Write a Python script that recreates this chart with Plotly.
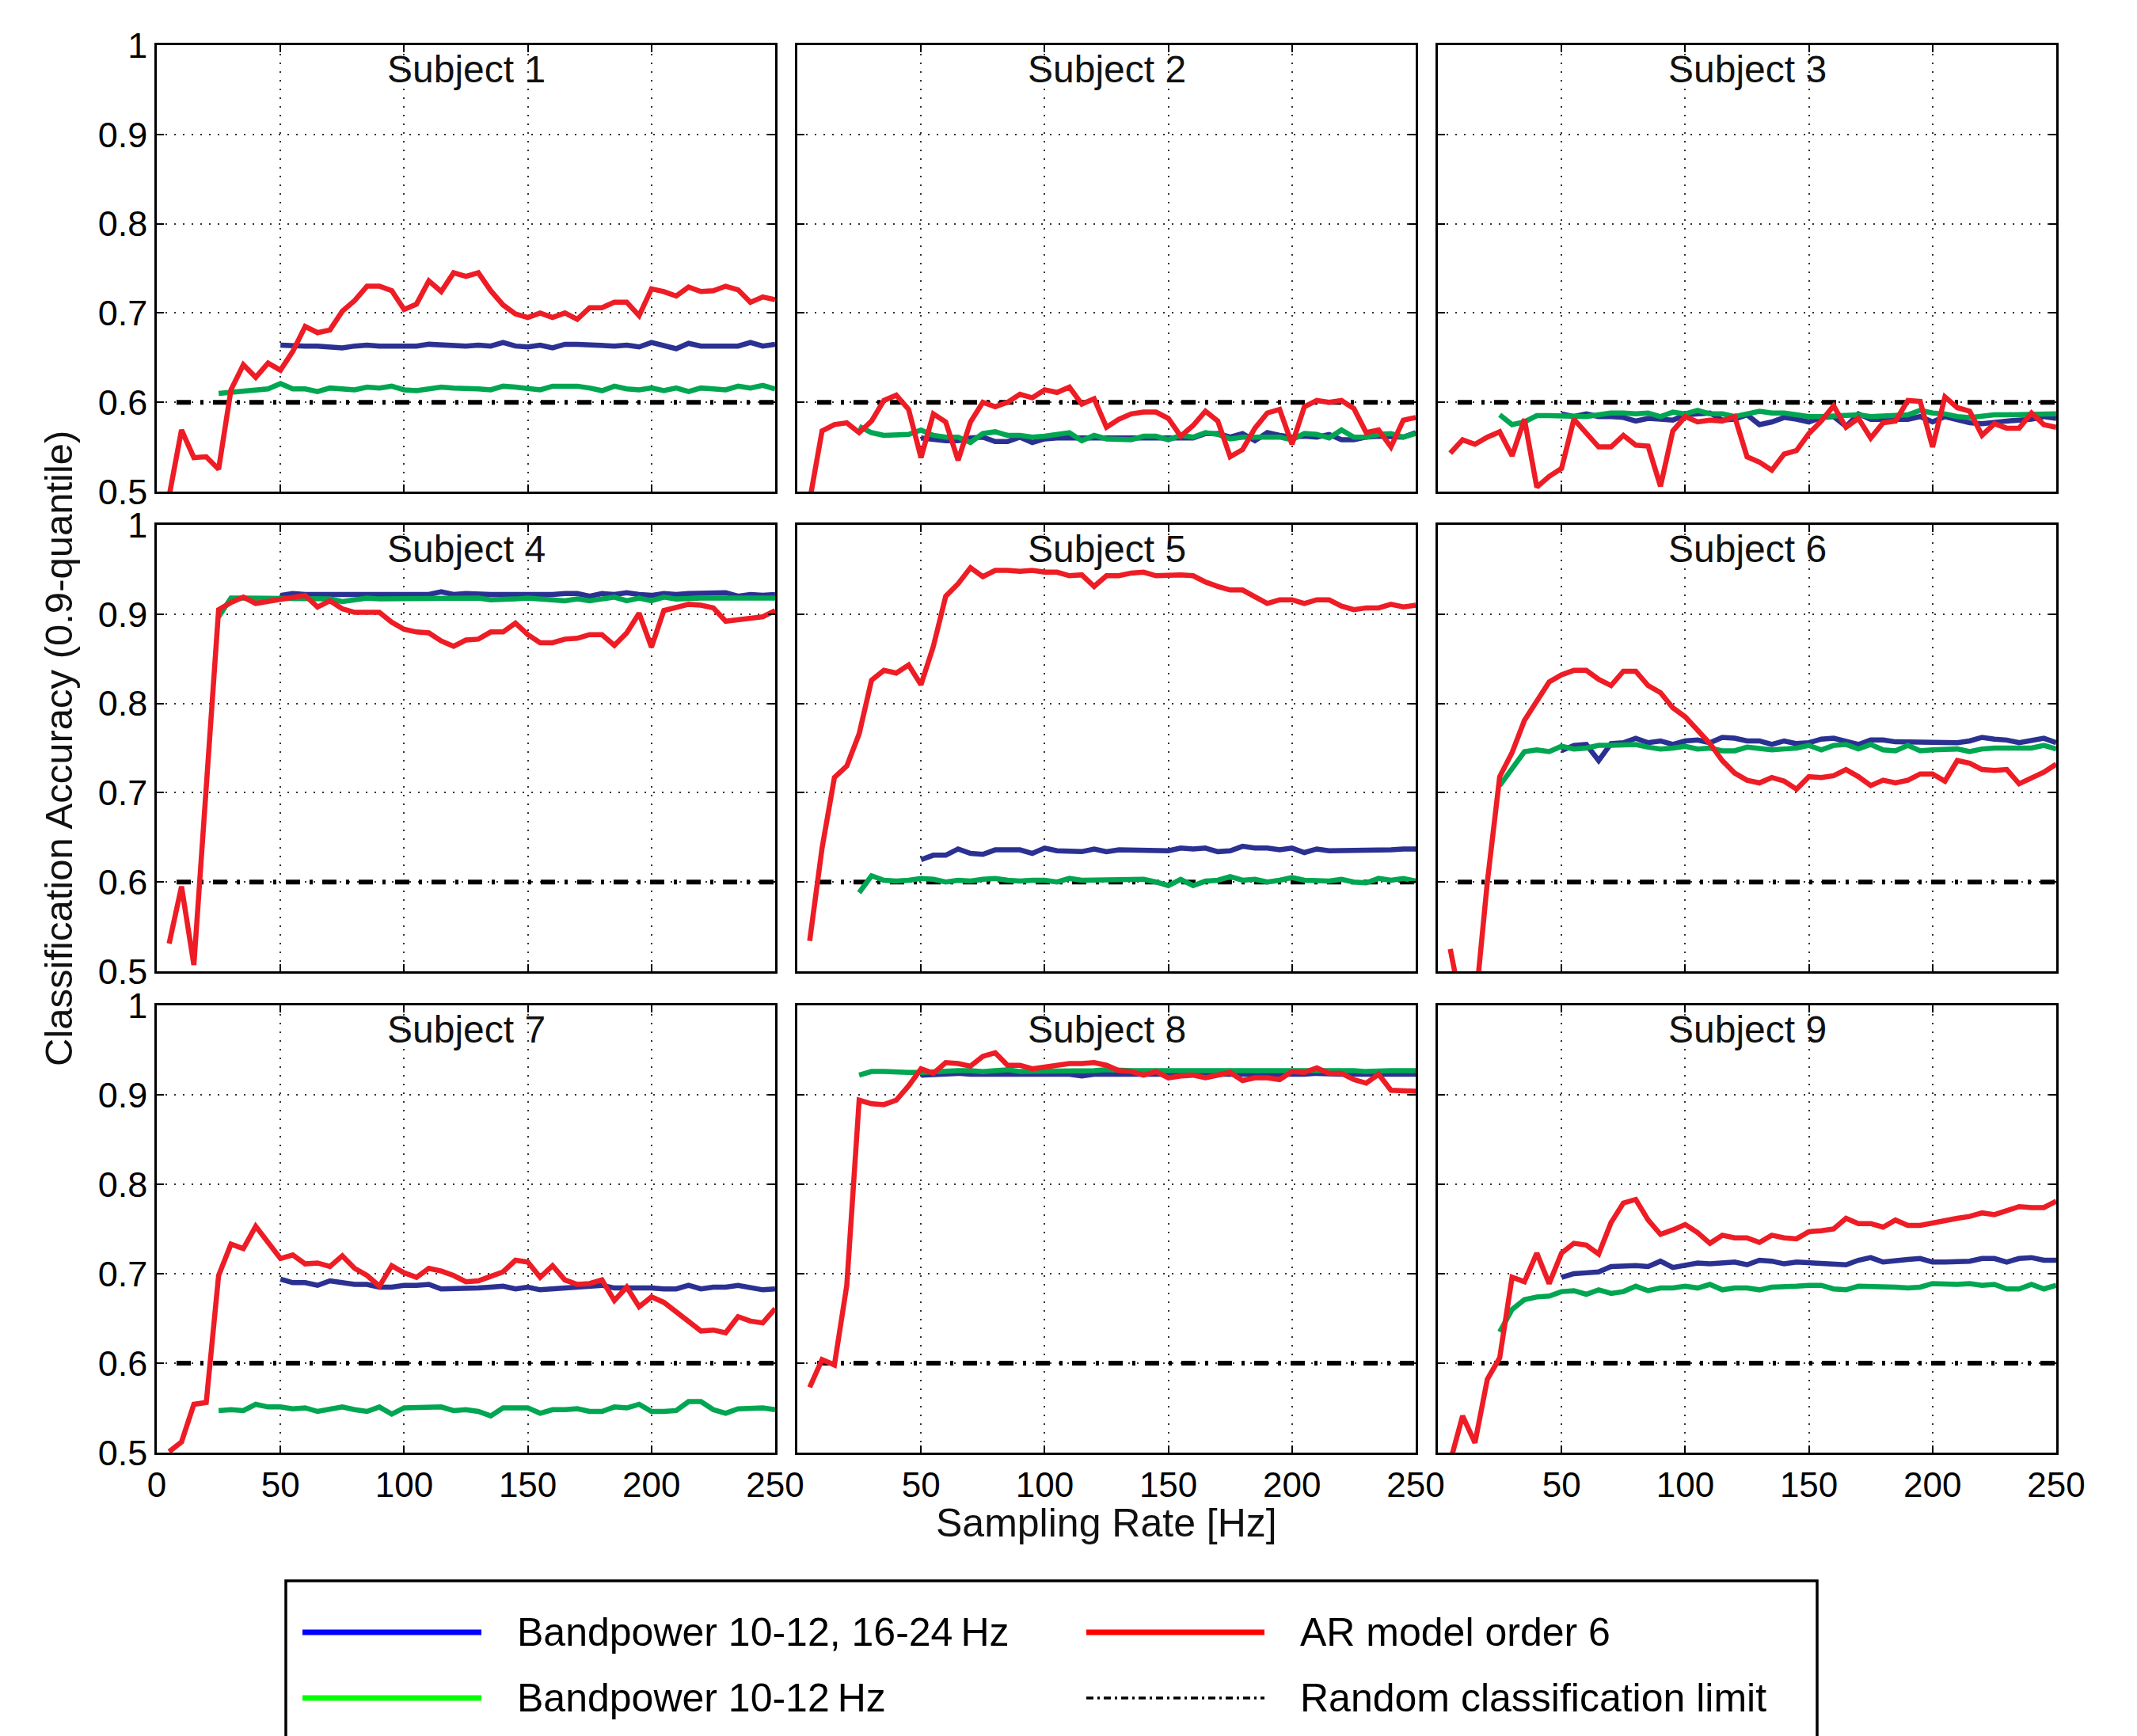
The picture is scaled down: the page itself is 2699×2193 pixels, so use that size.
import plotly.graph_objects as go

W, H = 2699, 2193

# ---------------- data ----------------
x_ar = [5, 10, 15, 20, 25, 30, 35, 40, 45, 50, 55, 60, 65, 70, 75, 80, 85, 90, 95, 100,
        105, 110, 115, 120, 125, 130, 135, 140, 145, 150, 155, 160, 165, 170, 175, 180,
        185, 190, 195, 200, 205, 210, 215, 220, 225, 230, 235, 240, 245, 250]
x_bp12 = [25, 30, 35, 40, 45, 50, 55, 60, 65, 70, 75, 80, 85, 90, 95, 100,
          105, 110, 115, 120, 125, 130, 135, 140, 145, 150, 155, 160, 165, 170, 175, 180,
          185, 190, 195, 200, 205, 210, 215, 220, 225, 230, 235, 240, 245, 250]
x_bp1224 = [50, 55, 60, 65, 70, 75, 80, 85, 90, 95, 100,
            105, 110, 115, 120, 125, 130, 135, 140, 145, 150, 155, 160, 165, 170, 175, 180,
            185, 190, 195, 200, 205, 210, 215, 220, 225, 230, 235, 240, 245, 250]
chance_x = [8, 250]
chance_y = [0.6, 0.6]

subjects = ["Subject 1", "Subject 2", "Subject 3", "Subject 4", "Subject 5",
            "Subject 6", "Subject 7", "Subject 8", "Subject 9"]

ar_s1 = [0.495, 0.569, 0.538, 0.539, 0.525, 0.614, 0.642, 0.628, 0.644, 0.636,
         0.657, 0.685, 0.678, 0.681, 0.702, 0.714, 0.730, 0.730, 0.725, 0.704,
         0.710, 0.736, 0.724, 0.745, 0.741, 0.745, 0.725, 0.709, 0.699, 0.695,
         0.700, 0.695, 0.700, 0.693, 0.706, 0.706, 0.712, 0.712, 0.697, 0.727,
         0.724, 0.719, 0.729, 0.724, 0.725, 0.730, 0.726, 0.712, 0.718, 0.715]
ar_s2 = [0.490, 0.568, 0.575, 0.577, 0.566, 0.579, 0.602, 0.608, 0.592, 0.538,
         0.587, 0.578, 0.535, 0.578, 0.600, 0.595, 0.600, 0.609, 0.605, 0.614,
         0.611, 0.617, 0.598, 0.604, 0.572, 0.581, 0.587, 0.589, 0.589, 0.582,
         0.562, 0.574, 0.590, 0.579, 0.539, 0.547, 0.571, 0.588, 0.592, 0.553,
         0.595, 0.602, 0.600, 0.602, 0.593, 0.566, 0.569, 0.550, 0.580, 0.583]
ar_s3 = [0.543, 0.558, 0.553, 0.561, 0.567, 0.540, 0.581, 0.505, 0.517, 0.526,
         0.581, 0.566, 0.550, 0.550, 0.563, 0.552, 0.551, 0.506, 0.568, 0.584,
         0.578, 0.580, 0.579, 0.584, 0.539, 0.533, 0.524, 0.542, 0.546, 0.565,
         0.579, 0.596, 0.572, 0.582, 0.560, 0.577, 0.579, 0.602, 0.601, 0.550,
         0.606, 0.594, 0.590, 0.563, 0.576, 0.571, 0.571, 0.588, 0.575, 0.572]
ar_s4 = [0.531, 0.595, 0.507, 0.706, 0.905, 0.913, 0.919, 0.912, 0.914, 0.916,
         0.919, 0.921, 0.908, 0.915, 0.906, 0.902, 0.902, 0.902, 0.891, 0.883,
         0.880, 0.879, 0.870, 0.864, 0.871, 0.872, 0.880, 0.880, 0.890, 0.877,
         0.868, 0.868, 0.872, 0.873, 0.877, 0.877, 0.865, 0.879, 0.901, 0.863,
         0.904, 0.907, 0.911, 0.910, 0.907, 0.892, 0.894, 0.895, 0.897, 0.904]
ar_s5 = [0.534, 0.638, 0.717, 0.730, 0.766, 0.826, 0.837, 0.834, 0.843, 0.821,
         0.864, 0.920, 0.934, 0.952, 0.942, 0.949, 0.949, 0.948, 0.949, 0.947,
         0.947, 0.943, 0.944, 0.931, 0.943, 0.943, 0.946, 0.947, 0.943, 0.944,
         0.944, 0.943, 0.936, 0.931, 0.927, 0.927, 0.919, 0.912, 0.916, 0.916,
         0.912, 0.916, 0.916, 0.909, 0.905, 0.907, 0.907, 0.911, 0.908, 0.910]
ar_s6 = [0.525, 0.455, 0.457, 0.600, 0.718, 0.745, 0.781, 0.803, 0.824, 0.832,
         0.837, 0.837, 0.827, 0.820, 0.836, 0.836, 0.820, 0.812, 0.795, 0.785,
         0.771, 0.755, 0.736, 0.722, 0.714, 0.711, 0.717, 0.713, 0.704, 0.718,
         0.717, 0.719, 0.726, 0.718, 0.708, 0.714, 0.711, 0.714, 0.721, 0.721,
         0.713, 0.736, 0.733, 0.726, 0.725, 0.726, 0.710, 0.717, 0.723, 0.732]
ar_s7 = [0.501, 0.512, 0.554, 0.556, 0.698, 0.733, 0.728, 0.753, 0.735, 0.717,
         0.721, 0.711, 0.712, 0.708, 0.720, 0.706, 0.698, 0.686, 0.709, 0.701,
         0.696, 0.706, 0.703, 0.698, 0.691, 0.692, 0.697, 0.702, 0.715, 0.713,
         0.696, 0.709, 0.693, 0.688, 0.689, 0.693, 0.670, 0.685, 0.663, 0.674,
         0.668, 0.657, 0.646, 0.636, 0.637, 0.634, 0.652, 0.647, 0.645, 0.661]
ar_s8 = [0.573, 0.604, 0.598, 0.687, 0.894, 0.890, 0.889, 0.894, 0.910, 0.929,
         0.924, 0.936, 0.935, 0.932, 0.943, 0.947, 0.933, 0.933, 0.929, 0.931,
         0.932, 0.935, 0.935, 0.936, 0.933, 0.927, 0.926, 0.922, 0.926, 0.919,
         0.921, 0.922, 0.919, 0.922, 0.925, 0.916, 0.919, 0.919, 0.917, 0.926,
         0.925, 0.930, 0.924, 0.924, 0.917, 0.913, 0.923, 0.905, 0.905, 0.904]
ar_s9 = [0.490, 0.541, 0.511, 0.582, 0.606, 0.696, 0.691, 0.723, 0.689, 0.723,
         0.734, 0.732, 0.722, 0.757, 0.779, 0.783, 0.760, 0.744, 0.749, 0.755,
         0.746, 0.734, 0.743, 0.740, 0.740, 0.735, 0.743, 0.740, 0.739, 0.747,
         0.748, 0.750, 0.762, 0.756, 0.756, 0.752, 0.760, 0.754, 0.754, 0.757,
         0.760, 0.762, 0.764, 0.768, 0.766, 0.771, 0.775, 0.774, 0.774, 0.781]

bp12_s1 = [0.610, 0.611, 0.613, 0.614, 0.615, 0.621, 0.615, 0.615, 0.612, 0.616,
           0.615, 0.614, 0.617, 0.616, 0.618, 0.614, 0.613, 0.615, 0.617, 0.616,
           0.616, 0.615, 0.614, 0.618, 0.617, 0.616, 0.614, 0.618, 0.618, 0.618,
           0.616, 0.613, 0.618, 0.615, 0.614, 0.616, 0.613, 0.616, 0.612, 0.616,
           0.615, 0.614, 0.618, 0.616, 0.619, 0.615]
bp12_s2 = [0.573, 0.566, 0.563, 0.564, 0.564, 0.569, 0.563, 0.561, 0.561, 0.555,
           0.565, 0.567, 0.563, 0.563, 0.561, 0.562, 0.564, 0.566, 0.557, 0.563,
           0.559, 0.559, 0.558, 0.562, 0.562, 0.558, 0.563, 0.561, 0.566, 0.564,
           0.559, 0.561, 0.561, 0.561, 0.561, 0.558, 0.565, 0.564, 0.560, 0.569,
           0.561, 0.561, 0.564, 0.565, 0.561, 0.565]
bp12_s3 = [0.586, 0.575, 0.578, 0.585, 0.585, 0.585, 0.584, 0.584, 0.586, 0.588,
           0.588, 0.587, 0.588, 0.584, 0.589, 0.587, 0.591, 0.587, 0.587, 0.584,
           0.587, 0.590, 0.588, 0.588, 0.586, 0.584, 0.584, 0.585, 0.585, 0.586,
           0.584, 0.585, 0.586, 0.586, 0.591, 0.588, 0.587, 0.584, 0.583, 0.585,
           0.586, 0.586, 0.586, 0.586, 0.586, 0.587]
bp12_s4 = [0.897, 0.918, 0.918, 0.918, 0.918, 0.917, 0.917, 0.918, 0.917, 0.917,
           0.914, 0.916, 0.918, 0.917, 0.917, 0.918, 0.917, 0.917, 0.917, 0.918,
           0.918, 0.918, 0.916, 0.916, 0.917, 0.918, 0.917, 0.917, 0.915, 0.917,
           0.915, 0.917, 0.919, 0.915, 0.918, 0.915, 0.919, 0.917, 0.918, 0.918,
           0.918, 0.918, 0.918, 0.918, 0.918, 0.918]
bp12_s5 = [0.588, 0.607, 0.602, 0.601, 0.602, 0.604, 0.603, 0.600, 0.602, 0.601,
           0.603, 0.604, 0.602, 0.601, 0.602, 0.602, 0.600, 0.604, 0.602, 0.602,
           0.603, 0.602, 0.603, 0.603, 0.600, 0.596, 0.603, 0.596, 0.601, 0.602,
           0.606, 0.602, 0.603, 0.600, 0.602, 0.605, 0.602, 0.601, 0.601, 0.603,
           0.600, 0.599, 0.604, 0.602, 0.604, 0.601]
bp12_s6 = [0.708, 0.726, 0.746, 0.748, 0.746, 0.752, 0.749, 0.750, 0.753, 0.753,
           0.753, 0.754, 0.751, 0.749, 0.750, 0.752, 0.749, 0.750, 0.747, 0.747,
           0.751, 0.749, 0.748, 0.749, 0.750, 0.753, 0.748, 0.753, 0.754, 0.749,
           0.754, 0.748, 0.747, 0.753, 0.747, 0.748, 0.749, 0.749, 0.746, 0.749,
           0.750, 0.750, 0.749, 0.750, 0.753, 0.749]
bp12_s7 = [0.547, 0.548, 0.547, 0.554, 0.551, 0.551, 0.549, 0.550, 0.546, 0.549,
           0.551, 0.548, 0.546, 0.551, 0.543, 0.550, 0.550, 0.551, 0.551, 0.547,
           0.548, 0.546, 0.541, 0.550, 0.550, 0.550, 0.544, 0.548, 0.548, 0.549,
           0.546, 0.546, 0.551, 0.550, 0.554, 0.546, 0.546, 0.547, 0.557, 0.557,
           0.548, 0.544, 0.549, 0.549, 0.550, 0.548]
bp12_s8 = [0.922, 0.926, 0.926, 0.925, 0.925, 0.925, 0.926, 0.926, 0.927, 0.927,
           0.926, 0.927, 0.928, 0.926, 0.926, 0.927, 0.927, 0.927, 0.926, 0.927,
           0.928, 0.927, 0.927, 0.927, 0.927, 0.928, 0.928, 0.928, 0.928, 0.927,
           0.927, 0.927, 0.927, 0.927, 0.927, 0.928, 0.928, 0.927, 0.927, 0.927,
           0.927, 0.926, 0.927, 0.927, 0.927, 0.927]
bp12_s9 = [0.635, 0.660, 0.671, 0.674, 0.675, 0.680, 0.681, 0.677, 0.682, 0.678,
           0.680, 0.686, 0.681, 0.684, 0.684, 0.686, 0.684, 0.688, 0.682, 0.684,
           0.684, 0.682, 0.685, 0.685, 0.686, 0.687, 0.687, 0.683, 0.682, 0.686,
           0.686, 0.686, 0.685, 0.684, 0.685, 0.689, 0.688, 0.688, 0.689, 0.687,
           0.688, 0.683, 0.683, 0.688, 0.683, 0.687]

bp1224_s1 = [0.664, 0.663, 0.663, 0.663, 0.662, 0.661, 0.663, 0.664, 0.663, 0.663,
             0.664, 0.663, 0.665, 0.664, 0.663, 0.663, 0.664, 0.663, 0.667, 0.663,
             0.662, 0.664, 0.661, 0.665, 0.665, 0.664, 0.663, 0.663, 0.664, 0.662,
             0.667, 0.663, 0.660, 0.666, 0.663, 0.663, 0.663, 0.663, 0.667, 0.663,
             0.665]
bp1224_s2 = [0.560, 0.558, 0.557, 0.557, 0.560, 0.561, 0.556, 0.556, 0.561, 0.555,
             0.559, 0.560, 0.560, 0.561, 0.561, 0.561, 0.561, 0.561, 0.561, 0.561,
             0.561, 0.561, 0.560, 0.565, 0.565, 0.561, 0.565, 0.557, 0.566, 0.563,
             0.561, 0.562, 0.561, 0.564, 0.558, 0.558, 0.561, 0.562, 0.561, 0.561,
             0.566]
bp1224_s3 = [0.587, 0.584, 0.587, 0.584, 0.584, 0.583, 0.579, 0.582, 0.581, 0.580,
             0.586, 0.587, 0.588, 0.580, 0.581, 0.586, 0.575, 0.578, 0.583, 0.581,
             0.578, 0.583, 0.584, 0.573, 0.587, 0.581, 0.581, 0.582, 0.581, 0.584,
             0.578, 0.584, 0.581, 0.577, 0.576, 0.578, 0.579, 0.580, 0.581, 0.584,
             0.582]
bp1224_s4 = [0.921, 0.923, 0.922, 0.922, 0.922, 0.923, 0.923, 0.923, 0.923, 0.922,
             0.923, 0.922, 0.922, 0.925, 0.922, 0.923, 0.922, 0.922, 0.922, 0.922,
             0.921, 0.922, 0.922, 0.923, 0.923, 0.920, 0.923, 0.922, 0.924, 0.922,
             0.921, 0.923, 0.922, 0.923, 0.923, 0.924, 0.924, 0.920, 0.922, 0.921,
             0.922]
bp1224_s5 = [0.625, 0.630, 0.630, 0.637, 0.632, 0.631, 0.636, 0.636, 0.636, 0.632,
             0.638, 0.635, 0.634, 0.634, 0.637, 0.634, 0.636, 0.636, 0.636, 0.636,
             0.635, 0.638, 0.637, 0.638, 0.634, 0.635, 0.640, 0.638, 0.638, 0.636,
             0.638, 0.633, 0.637, 0.635, 0.635, 0.635, 0.636, 0.636, 0.636, 0.637,
             0.637]
bp1224_s6 = [0.747, 0.753, 0.754, 0.736, 0.755, 0.756, 0.761, 0.756, 0.758, 0.754,
             0.758, 0.759, 0.756, 0.762, 0.761, 0.758, 0.758, 0.754, 0.758, 0.755,
             0.756, 0.760, 0.761, 0.757, 0.754, 0.759, 0.759, 0.757, 0.757, 0.757,
             0.757, 0.757, 0.756, 0.758, 0.762, 0.760, 0.759, 0.756, 0.758, 0.761,
             0.756]
bp1224_s7 = [0.694, 0.690, 0.690, 0.687, 0.692, 0.690, 0.688, 0.688, 0.685, 0.685,
             0.687, 0.687, 0.688, 0.683, 0.683, 0.683, 0.684, 0.685, 0.686, 0.683,
             0.685, 0.682, 0.683, 0.685, 0.686, 0.687, 0.687, 0.684, 0.684, 0.685,
             0.684, 0.683, 0.683, 0.687, 0.683, 0.685, 0.685, 0.687, 0.684, 0.682,
             0.683]
bp1224_s8 = [0.922, 0.923, 0.923, 0.924, 0.923, 0.923, 0.923, 0.923, 0.922, 0.923,
             0.923, 0.923, 0.923, 0.921, 0.923, 0.923, 0.923, 0.923, 0.922, 0.923,
             0.923, 0.923, 0.923, 0.923, 0.923, 0.923, 0.923, 0.923, 0.923, 0.922,
             0.923, 0.923, 0.924, 0.923, 0.923, 0.923, 0.923, 0.923, 0.923, 0.923,
             0.923]
bp1224_s9 = [0.696, 0.700, 0.701, 0.702, 0.708, 0.709, 0.709, 0.708, 0.714, 0.707,
             0.710, 0.712, 0.711, 0.712, 0.713, 0.710, 0.715, 0.714, 0.711, 0.713,
             0.712, 0.712, 0.711, 0.710, 0.715, 0.718, 0.713, 0.715, 0.716, 0.717,
             0.713, 0.713, 0.714, 0.714, 0.717, 0.717, 0.713, 0.717, 0.718, 0.715,
             0.715]

ar_all = [ar_s1, ar_s2, ar_s3, ar_s4, ar_s5, ar_s6, ar_s7, ar_s8, ar_s9]
bp12_all = [bp12_s1, bp12_s2, bp12_s3, bp12_s4, bp12_s5, bp12_s6, bp12_s7, bp12_s8, bp12_s9]
bp1224_all = [bp1224_s1, bp1224_s2, bp1224_s3, bp1224_s4, bp1224_s5, bp1224_s6,
              bp1224_s7, bp1224_s8, bp1224_s9]

y_tickvals = [0.5, 0.6, 0.7, 0.8, 0.9, 1.0]
y_ticktext = ["0.5", "0.6", "0.7", "0.8", "0.9", "1"]
x_tickvals_first = [0, 50, 100, 150, 200, 250]
x_ticktext_first = ["0", "50", "100", "150", "200", "250"]
x_tickvals_other = [50, 100, 150, 200, 250]
x_ticktext_other = ["50", "100", "150", "200", "250"]

legend_labels = ["Bandpower 10-12, 16-24\u2009Hz", "AR model order 6",
                 "Bandpower 10-12\u2009Hz", "Random classification limit"]

# ---------------- style ----------------
FONT = "Liberation Sans, Arial, Helvetica, sans-serif"
C_RED = "#EE1C25"
C_BLUE = "#2B3192"
C_GREEN = "#00A651"
LW = 6.5

col_px = [(198, 979), (1007, 1788), (1816, 2597)]
row_px = [(57, 621), (663, 1227), (1270, 1835)]

fig = go.Figure()
layout_axes = {}
annotations = []

for i in range(9):
    r, c = divmod(i, 3)
    n = i + 1
    xref = "x" if n == 1 else f"x{n}"
    yref = "y" if n == 1 else f"y{n}"

    fig.add_trace(go.Scatter(x=chance_x, y=chance_y, mode="lines", xaxis=xref, yaxis=yref,
                             line=dict(color="black", width=6, dash="18px,12px,4px,12px"),
                             showlegend=False, hoverinfo="skip"))
    fig.add_trace(go.Scatter(x=x_bp1224, y=bp1224_all[i], mode="lines", xaxis=xref, yaxis=yref,
                             line=dict(color=C_BLUE, width=LW), showlegend=False))
    fig.add_trace(go.Scatter(x=x_bp12, y=bp12_all[i], mode="lines", xaxis=xref, yaxis=yref,
                             line=dict(color=C_GREEN, width=LW), showlegend=False))
    fig.add_trace(go.Scatter(x=x_ar, y=ar_all[i], mode="lines", xaxis=xref, yaxis=yref,
                             line=dict(color=C_RED, width=LW), showlegend=False))

    x0, x1 = col_px[c]
    yt, yb = row_px[r]
    xname = "xaxis" if n == 1 else f"xaxis{n}"
    yname = "yaxis" if n == 1 else f"yaxis{n}"
    first_col = (c == 0)
    last_row = (r == 2)
    layout_axes[xname] = dict(
        domain=[x0 / W, x1 / W], anchor=yref, range=[0, 250],
        tickvals=x_tickvals_first if first_col else x_tickvals_other,
        ticktext=x_ticktext_first if first_col else x_ticktext_other,
        showticklabels=last_row, ticks="inside", ticklen=9, tickwidth=1.5, tickcolor="black",
        showline=True, linecolor="black", linewidth=2.5, mirror="ticks",
        showgrid=True, gridcolor="#333333", gridwidth=1.5, griddash="2px,9px",
        zeroline=False, ticklabelstandoff=0, automargin=False,
        tickfont=dict(family=FONT, size=44, color="black"),
    )
    layout_axes[yname] = dict(
        domain=[1 - yb / H, 1 - yt / H], anchor=xref, range=[0.5, 1.0],
        tickvals=y_tickvals, ticktext=y_ticktext,
        showticklabels=first_col, ticks="inside", ticklen=9, tickwidth=1.5, tickcolor="black",
        showline=True, linecolor="black", linewidth=2.5, mirror="ticks",
        showgrid=True, gridcolor="#333333", gridwidth=1.5, griddash="2px,9px",
        zeroline=False, ticklabelstandoff=0, automargin=False,
        tickfont=dict(family=FONT, size=45, color="black"),
    )
    annotations.append(dict(text=subjects[i], xref=f"{xref} domain", yref=f"{yref} domain",
                            x=0.5, y=1, yshift=-30, xanchor="center", yanchor="middle",
                            showarrow=False, font=dict(family=FONT, size=48, color="#111111")))

# axis titles
annotations.append(dict(text="Sampling Rate [Hz]", xref="paper", yref="paper",
                        x=1397 / W, y=1 - 1924 / H, xanchor="center", yanchor="middle",
                        showarrow=False, font=dict(family=FONT, size=50, color="#111111")))
annotations.append(dict(text="Classification Accuracy (0.9-quantile)", xref="paper", yref="paper",
                        x=74 / W, y=1 - 946 / H, xanchor="center", yanchor="middle", textangle=-90,
                        showarrow=False, font=dict(family=FONT, size=49, color="#111111")))

# manual legend (box open at the bottom, as cut by the page edge)
shapes = []
bx0, bx1, by1 = 361 / W, 2295 / W, 1 - 1997 / H
shapes.append(dict(type="path", xref="paper", yref="paper",
                   path=f"M {bx0},0 L {bx0},{by1} L {bx1},{by1} L {bx1},0",
                   line=dict(color="black", width=3.5)))
leg_rows = [1 - 2062 / H, 1 - 2145 / H]
leg_items = [
    (0, 0, "#0000FF", "solid", 7),
    (1, 0, "#FF0000", "solid", 7),
    (0, 1, "#00FF00", "solid", 7),
    (1, 1, "black", "9px,5px,3px,5px", 3.5),
]
leg_line_x = [(382, 608), (1372, 1597)]
leg_text_x = [651, 1640]
for k, (cc, rr, colr, dash, w) in enumerate(leg_items):
    lx0, lx1 = leg_line_x[cc]
    yy = leg_rows[rr]
    shapes.append(dict(type="line", xref="paper", yref="paper", x0=lx0 / W, x1=lx1 / W,
                       y0=yy, y1=yy, line=dict(color=colr, width=w, dash=dash)))
    annotations.append(dict(text=legend_labels[k], xref="paper", yref="paper",
                            x=leg_text_x[cc] / W, y=yy, xanchor="left", yanchor="middle",
                            showarrow=False, font=dict(family=FONT, size=50, color="black")))

fig.update_layout(
    width=W, height=H, margin=dict(l=0, r=0, t=0, b=0, autoexpand=False),
    paper_bgcolor="white", plot_bgcolor="white",
    showlegend=False, annotations=annotations, shapes=shapes,
    font=dict(family=FONT, color="black"),
    **layout_axes,
)

fig.write_html("out.html",
               config={"displayModeBar": False},
               post_script="document.body.style.margin='0px';"
                           "document.documentElement.style.overflow='hidden';"
                           "document.body.style.overflow='hidden';")
